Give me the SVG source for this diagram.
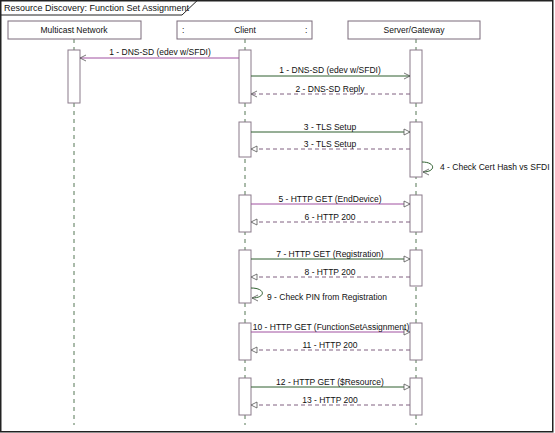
<svg xmlns="http://www.w3.org/2000/svg" width="555" height="433" viewBox="0 0 555 433">
<defs>
<style>
text{font-family:"Liberation Sans",Arial,sans-serif;font-size:8.5px;fill:#111}
.t{text-anchor:middle}
.box{fill:#fff;stroke:#7a6a7a;stroke-width:1}
.life{stroke:#557755;stroke-width:1;stroke-dasharray:4,4}
.act{fill:#fff;stroke:#8a7a8a;stroke-width:1}
.sg{stroke:#2f5f2f;stroke-width:1;fill:none}
.sp{stroke:#a050a0;stroke-width:1;fill:none}
.dr{stroke:#806080;stroke-width:1;fill:none;stroke-dasharray:4,3}
</style>
<marker id="tri" markerWidth="8" markerHeight="8" refX="7" refY="4" orient="auto" markerUnits="userSpaceOnUse">
<path d="M1,1 L7,4 L1,7 Z" fill="#fff" stroke="#555" stroke-width="0.8"/>
</marker>
<marker id="open" markerWidth="8" markerHeight="8" refX="7" refY="4" orient="auto" markerUnits="userSpaceOnUse">
<path d="M1,1 L7,4 L1,7" fill="none" stroke="#555" stroke-width="0.8"/>
</marker>
</defs>
<rect x="0.75" y="0.75" width="552" height="431" fill="#fff" stroke="#222" stroke-width="1.5"/>
<path d="M0.75,15 H182 L197,0.75" fill="none" stroke="#222" stroke-width="1"/>
<text x="4" y="11" style="font-size:9px">Resource Discovery: Function Set Assignment</text>

<g id="lifelines">
<line class="life" x1="74" y1="39" x2="74" y2="425"/>
<line class="life" x1="245" y1="39" x2="245" y2="425"/>
<line class="life" x1="416" y1="39" x2="416" y2="425"/>
</g>

<g id="node-multicast">
<rect class="box" x="8" y="21" width="133" height="18"/>
<text class="t" x="74" y="33">Multicast Network</text>
<rect class="act" x="68" y="50" width="12" height="53"/>
</g>

<g id="node-client">
<rect class="box" x="177" y="21" width="135" height="18"/>
<text x="182" y="33">:</text>
<text class="t" x="245" y="33">Client</text>
<text x="305" y="33">:</text>
<rect class="act" x="239" y="50" width="12" height="53"/>
<rect class="act" x="239" y="122" width="12" height="35"/>
<rect class="act" x="239" y="195" width="12" height="37"/>
<rect class="act" x="239" y="250" width="12" height="53"/>
<rect class="act" x="239" y="323" width="12" height="37"/>
<rect class="act" x="239" y="378" width="12" height="37"/>
</g>

<g id="node-server">
<rect class="box" x="348" y="21" width="132" height="18"/>
<text class="t" x="414" y="33">Server/Gateway</text>
<rect class="act" x="410" y="50" width="12" height="53"/>
<rect class="act" x="410" y="122" width="12" height="55"/>
<rect class="act" x="410" y="195" width="12" height="37"/>
<rect class="act" x="410" y="250" width="12" height="36"/>
<rect class="act" x="410" y="323" width="12" height="37"/>
<rect class="act" x="410" y="378" width="12" height="37"/>
</g>

<g id="connectors">
<line class="sp" x1="239" y1="58" x2="80" y2="58" marker-end="url(#open)"/>
<text class="t" x="160" y="55">1 - DNS-SD (edev w/SFDI)</text>
<line class="sg" x1="251" y1="76" x2="410" y2="76" marker-end="url(#open)"/>
<text class="t" x="330" y="73">1 - DNS-SD (edev w/SFDI)</text>
<line class="dr" x1="410" y1="94" x2="251" y2="94" marker-end="url(#open)"/>
<text class="t" x="330" y="92">2 - DNS-SD Reply</text>

<line class="sg" x1="251" y1="132" x2="410" y2="132" marker-end="url(#tri)"/>
<text class="t" x="330" y="130">3 - TLS Setup</text>
<line class="dr" x1="410" y1="149" x2="251" y2="149" marker-end="url(#tri)"/>
<text class="t" x="330" y="147">3 - TLS Setup</text>
<path class="sg" d="M422,162 C436,162 436,172 423,172" marker-end="url(#open)"/>
<text x="440" y="170">4 - Check Cert Hash vs SFDI</text>

<line class="sp" x1="251" y1="204" x2="410" y2="204" marker-end="url(#tri)"/>
<text class="t" x="330" y="202">5 - HTTP GET (EndDevice)</text>
<line class="dr" x1="410" y1="222" x2="251" y2="222" marker-end="url(#tri)"/>
<text class="t" x="330" y="220">6 - HTTP 200</text>

<line class="sg" x1="251" y1="259" x2="410" y2="259" marker-end="url(#tri)"/>
<text class="t" x="330" y="257">7 - HTTP GET (Registration)</text>
<line class="dr" x1="410" y1="277" x2="251" y2="277" marker-end="url(#tri)"/>
<text class="t" x="330" y="275">8 - HTTP 200</text>
<path class="sg" d="M251,288 C266,288 266,298 252,298" marker-end="url(#open)"/>
<text x="267" y="300">9 - Check PIN from Registration</text>

<line class="sp" x1="251" y1="332" x2="410" y2="332" marker-end="url(#tri)"/>
<text class="t" x="331" y="330">10 - HTTP GET (FunctionSetAssignment)</text>
<line class="dr" x1="410" y1="350" x2="251" y2="350" marker-end="url(#tri)"/>
<text class="t" x="330" y="348">11 - HTTP 200</text>

<line class="sg" x1="251" y1="387" x2="410" y2="387" marker-end="url(#tri)"/>
<text class="t" x="330" y="385">12 - HTTP GET ($Resource)</text>
<line class="dr" x1="410" y1="405" x2="251" y2="405" marker-end="url(#tri)"/>
<text class="t" x="330" y="403">13 - HTTP 200</text>
</g>
</svg>
